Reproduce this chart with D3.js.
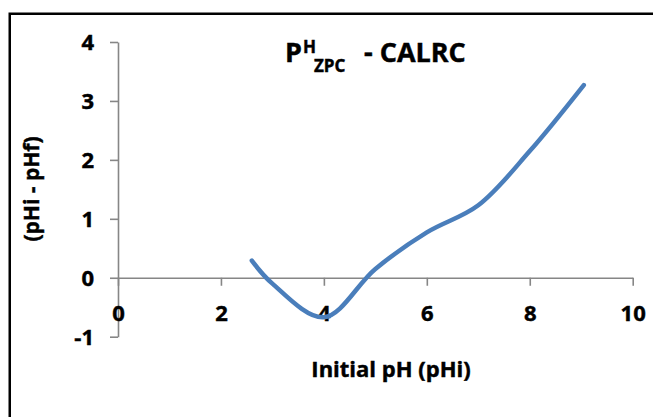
<!DOCTYPE html>
<html>
<head>
<meta charset="utf-8">
<script src="https://cdn.jsdelivr.net/npm/d3@7"></script>
<style>
  html, body { margin: 0; padding: 0; background: #fff; }
  svg text { font-family: "Open Sans", "Liberation Sans", sans-serif; font-weight: 700; fill: #000; stroke: #000; stroke-width: 0.45px; }
</style>
</head>
<body>
<svg id="chart" width="653" height="417"></svg>
<script>
// ---- data ----
const initialPH = [2.6, 3.0, 4.0, 5.0, 6.0, 7.0, 8.0, 9.05];
const deltaPH   = [0.29, -0.1, -0.67, 0.15, 0.77, 1.23, 2.15, 3.27];
const xTicks = [0, 2, 4, 6, 8, 10];
const yTicks = [-1, 0, 1, 2, 3, 4];
const xTitle = "Initial pH (pHi)";
const yTitle = "(pHi - pHf)";

const svg = d3.select("#chart");

// outer frame
svg.append("rect")
  .attr("x", 9.75).attr("y", 13.75)
  .attr("width", 700).attr("height", 500)
  .attr("fill", "none").attr("stroke", "#000").attr("stroke-width", 2.5);

const x = d3.scaleLinear().domain([0, 10]).range([118, 632.7]);
const y = d3.scaleLinear().domain([-1, 4]).range([336.7, 42]);

const axisColor = "#868686";
const fmt = d => String(d);

// y axis
const gy = svg.append("g").attr("transform", `translate(${x(0)},0)`)
  .call(d3.axisLeft(y).tickValues(yTicks).tickSize(8).tickSizeOuter(0).tickFormat(fmt));
gy.select(".domain").attr("stroke", axisColor).attr("stroke-width", 1.6);
gy.selectAll(".tick line").attr("stroke", axisColor).attr("stroke-width", 1.6);
gy.selectAll(".tick text").attr("x", -24).attr("dy", "0.36em")
  .style("font-size", "22px").style("font-family", "'Open Sans', sans-serif").style("font-weight", 700).attr("fill", "#000");

// x axis at y=0
const gx = svg.append("g").attr("transform", `translate(0,${y(0)})`)
  .call(d3.axisBottom(x).tickValues(xTicks).tickSize(8).tickSizeOuter(0).tickFormat(fmt));
gx.select(".domain").attr("stroke", axisColor).attr("stroke-width", 1.6);
gx.selectAll(".tick line").attr("stroke", axisColor).attr("stroke-width", 1.6);
gx.selectAll(".tick text").attr("y", 43).attr("dy", 0)
  .style("font-size", "22px").style("font-family", "'Open Sans', sans-serif").style("font-weight", 700).attr("fill", "#000");

// line
const pts = initialPH.map((v, i) => [v, deltaPH[i]]);
svg.append("path")
  .datum(pts)
  .attr("fill", "none")
  .attr("stroke", "#4a7ebb")
  .attr("stroke-width", 4.5)
  .attr("stroke-linecap", "round")
  .attr("stroke-linejoin", "round")
  .attr("d", d3.line().x(d => x(d[0])).y(d => y(d[1])).curve(d3.curveCatmullRom.alpha(0.5)));

// title
const title = svg.append("text").attr("y", 62);
title.append("tspan").attr("x", 285).style("font-size", "27px").text("P");
title.append("tspan").attr("x", 303).attr("y", 53).style("font-size", "17px").text("H");
title.append("tspan").attr("x", 314).attr("y", 72).style("font-size", "17px").text("ZPC");
title.append("tspan").attr("x", 364).attr("y", 62).style("font-size", "27px").text("- CALRC");

// axis titles
svg.append("text")
  .attr("x", 391).attr("y", 377)
  .attr("text-anchor", "middle")
  .style("font-size", "22px")
  .text(xTitle);

svg.append("text")
  .attr("transform", "translate(39,189) rotate(-90)")
  .attr("text-anchor", "middle")
  .style("font-size", "21px")
  .text(yTitle);
</script>
</body>
</html>
